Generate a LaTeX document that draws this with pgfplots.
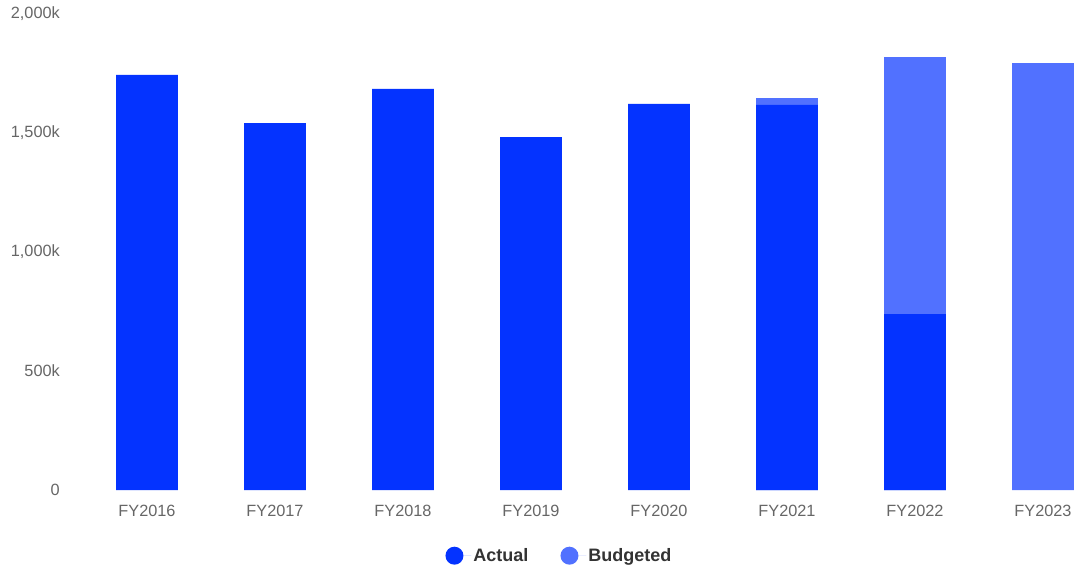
\documentclass[border=0pt]{standalone}
\usepackage{fontspec}
\setmainfont{Liberation Sans}
\usepackage{pgfplots}
\pgfplotsset{compat=1.18}
\definecolor{actual}{HTML}{0433FF}
\definecolor{budget}{HTML}{5171FF}
\definecolor{ticktext}{HTML}{666666}
\definecolor{legtext}{HTML}{333333}
\begin{document}
\begin{tikzpicture}
\path (-83pt,-83pt) rectangle (992pt,490pt);
\begin{axis}[
  at={(0pt,0pt)}, anchor=south west,
  scale only axis, width=992pt, height=476pt,
  xmin=-0.5, xmax=7.25, ymin=0, ymax=2000,
  axis line style={draw=none}, tick style={draw=none},
  xtick={0,1,2,3,4,5,6,7},
  xticklabels={FY2016,FY2017,FY2018,FY2019,FY2020,FY2021,FY2022,FY2023},
  ytick={0,500,1000,1500,2000},
  yticklabels={0,500k,{1,000k},{1,500k},{2,000k}},
  tick label style={font=\fontsize{16.3}{19}\selectfont, text=ticktext, inner sep=0pt},
  xticklabel style={anchor=center, yshift=-21pt},
  yticklabel style={anchor=east, xshift=-23pt},
  legend style={at={(0.4803,-0.138)}, anchor=center, draw=none, fill=none,
    font=\bfseries\fontsize{18}{21}\selectfont, text=legtext,
    /tikz/every even column/.append style={column sep=30pt}},
  legend columns=2,
  reverse legend,
  legend image code/.code={\path (4pt,0pt) -- (21pt,0pt); \fill[#1] (4pt,0pt) circle (9pt);},
]
\addplot[ybar, bar width=0.484, bar shift=0pt, fill=budget, draw=none]
  coordinates {(5,1647) (6,1819) (7,1794)};
\addlegendentry{Budgeted}
\addplot[ybar, bar width=0.484, bar shift=0pt, fill=actual, draw=none]
  coordinates {(0,1744) (1,1542) (2,1685) (3,1483) (4,1622) (5,1618) (6,739.5)};
\addlegendentry{Actual}
\end{axis}
\end{tikzpicture}
\end{document}
